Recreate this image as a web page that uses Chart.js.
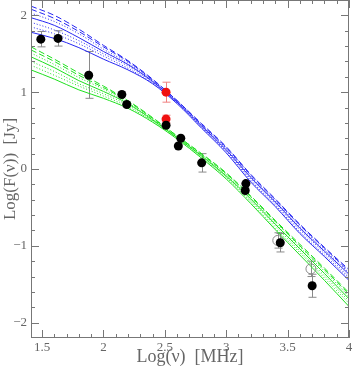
<!DOCTYPE html>
<html>
<head>
<meta charset="utf-8">
<script src="https://cdn.jsdelivr.net/npm/chart.js@4"></script>
<style>
  body { margin: 0; background: #fff; }
  #wrap { width: 353px; height: 366px; }
</style>
</head>
<body>
<div id="wrap"><canvas id="sed" width="353" height="366"></canvas></div>
<script>
// model curves, sampled in log(nu)
const modelX = [1.41, 1.6, 1.8, 2.0, 2.2, 2.4, 2.6, 2.8, 3.0, 3.2, 3.4, 3.6, 3.8, 4.0];

const blue1 = [2.12, 2.00, 1.82, 1.61, 1.41, 1.17, 0.89, 0.59, 0.29, -0.07, -0.39, -0.72, -1.02, -1.31];
const blue2 = [2.08, 1.96, 1.79, 1.59, 1.40, 1.16, 0.89, 0.58, 0.28, -0.08, -0.40, -0.73, -1.03, -1.33];
const blue3 = [2.03, 1.92, 1.76, 1.56, 1.38, 1.15, 0.88, 0.57, 0.27, -0.10, -0.42, -0.75, -1.05, -1.35];
const blue4 = [1.97, 1.87, 1.71, 1.53, 1.36, 1.14, 0.87, 0.56, 0.25, -0.11, -0.43, -0.77, -1.07, -1.37];
const blue5 = [1.91, 1.81, 1.67, 1.50, 1.34, 1.13, 0.87, 0.55, 0.24, -0.13, -0.45, -0.79, -1.09, -1.40];
const blue6 = [1.85, 1.76, 1.63, 1.47, 1.31, 1.12, 0.86, 0.54, 0.23, -0.15, -0.47, -0.82, -1.12, -1.42];
const blue7 = [1.78, 1.70, 1.58, 1.43, 1.29, 1.11, 0.85, 0.53, 0.21, -0.17, -0.49, -0.84, -1.14, -1.45];

const green1 = [1.59, 1.43, 1.25, 1.08, 0.89, 0.67, 0.43, 0.20, -0.05, -0.35, -0.67, -0.98, -1.29, -1.61];
const green2 = [1.55, 1.40, 1.22, 1.06, 0.88, 0.66, 0.43, 0.19, -0.06, -0.36, -0.68, -1.00, -1.31, -1.63];
const green3 = [1.51, 1.36, 1.19, 1.04, 0.86, 0.65, 0.42, 0.18, -0.07, -0.38, -0.70, -1.02, -1.33, -1.66];
const green4 = [1.46, 1.32, 1.15, 1.01, 0.85, 0.64, 0.41, 0.17, -0.09, -0.39, -0.72, -1.04, -1.36, -1.69];
const green5 = [1.40, 1.27, 1.11, 0.98, 0.83, 0.63, 0.41, 0.16, -0.10, -0.41, -0.74, -1.07, -1.39, -1.72];
const green6 = [1.35, 1.22, 1.08, 0.95, 0.81, 0.62, 0.40, 0.15, -0.11, -0.43, -0.77, -1.09, -1.42, -1.75];
const green7 = [1.29, 1.17, 1.03, 0.92, 0.79, 0.61, 0.39, 0.14, -0.13, -0.45, -0.79, -1.12, -1.45, -1.79];

// measured fluxes
const obsX = [1.49, 1.63, 1.88, 2.15, 2.19, 2.51, 2.63, 2.61, 2.80, 3.16, 3.155, 3.44, 3.70];
const obsY = [1.69, 1.70, 1.22, 0.97, 0.84, 0.57, 0.40, 0.30, 0.08, -0.19, -0.28, -0.96, -1.52];
const obsErrUp = [0.10, 0.10, 0.31, 0, 0, 0, 0, 0, 0.12, 0, 0, 0.12, 0.15];
const obsErrDn = [0.10, 0.10, 0.30, 0, 0, 0, 0, 0, 0.12, 0, 0, 0.12, 0.15];

const redX = [2.51, 2.51];
const redY = [1.00, 0.65];
const redErr = [0.13, 0.05];

const openX = [3.42, 3.69];
const openY = [-0.93, -1.30];
const openErr = [0.10, 0.10];

const xTickVals = [1.5, 2, 2.5, 3, 3.5, 4];
const xTickLabels = ['1.5', '2', '2.5', '3', '3.5', '4'];
const yTickVals = [-2, -1, 0, 1, 2];
const yTickLabels = ['\u22122', '\u22121', '0', '1', '2'];

const BLUE = '#2626f2';
const GREEN = '#1ee01e';
const lineStyles = [[6, 3], [6, 3], [1, 2], [], [1, 2], [1, 2], []];

function pts(xs, ys) {
    return xs.map((x, i) => ({ x: x, y: ys[i] }));
}

const datasets = [];
[blue1, blue2, blue3, blue4, blue5, blue6, blue7].forEach((arr, i) => {
    datasets.push({
        type: 'line', data: pts(modelX, arr), borderColor: BLUE, borderWidth: 1,
        borderDash: lineStyles[i], pointRadius: 0, cubicInterpolationMode: 'monotone', order: 2
    });
});
[green1, green2, green3, green4, green5, green6, green7].forEach((arr, i) => {
    datasets.push({
        type: 'line', data: pts(modelX, arr), borderColor: GREEN, borderWidth: 1,
        borderDash: lineStyles[i], pointRadius: 0, cubicInterpolationMode: 'monotone', order: 2
    });
});
datasets.push({
    type: 'scatter', data: pts(openX, openY), pointRadius: 5, borderWidth: 1,
    borderColor: '#888', backgroundColor: 'rgba(0,0,0,0)', order: 1
});
datasets.push({
    type: 'scatter', data: pts(obsX, obsY), pointRadius: 4.5, borderWidth: 0,
    backgroundColor: '#000', order: 0
});
datasets.push({
    type: 'scatter', data: pts(redX, redY), pointRadius: 4.5, borderWidth: 0,
    backgroundColor: '#f01010', order: 0
});

// error bars, drawn under the points
const errorBars = {
    id: 'errorBars',
    beforeDatasetsDraw(chart) {
        const { ctx, scales: { x, y } } = chart;
        function bar(xv, yv, up, dn, color) {
            if (!up && !dn) return;
            const px = Math.round(x.getPixelForValue(xv)) + 0.5;
            const pt = y.getPixelForValue(yv + up);
            const pb = y.getPixelForValue(yv - dn);
            ctx.strokeStyle = color;
            ctx.beginPath();
            ctx.moveTo(px, pt); ctx.lineTo(px, pb);
            ctx.moveTo(px - 4, pt); ctx.lineTo(px + 4, pt);
            ctx.moveTo(px - 4, pb); ctx.lineTo(px + 4, pb);
            ctx.stroke();
        }
        ctx.save();
        ctx.lineWidth = 1;
        obsX.forEach((v, i) => bar(v, obsY[i], obsErrUp[i], obsErrDn[i], '#8a8a8a'));
        openX.forEach((v, i) => bar(v, openY[i], openErr[i], openErr[i], '#8a8a8a'));
        redX.forEach((v, i) => bar(v, redY[i], redErr[i], redErr[i], '#f08080'));
        ctx.restore();
    }
};

// box with inward ticks on all four sides
const frameTicks = {
    id: 'frameTicks',
    afterDraw(chart) {
        const { ctx, chartArea: a, scales: { x, y } } = chart;
        ctx.save();
        ctx.strokeStyle = '#777';
        ctx.lineWidth = 1;
        ctx.strokeRect(a.left + 0.5, a.top + 0.5, a.right - a.left - 1, a.bottom - a.top - 1);
        ctx.beginPath();
        for (let i = 15; i <= 40; i++) {
            const px = Math.round(x.getPixelForValue(i / 10)) + 0.5;
            const len = i % 5 === 0 ? 8 : 4;
            ctx.moveTo(px, a.bottom); ctx.lineTo(px, a.bottom - len);
            ctx.moveTo(px, a.top); ctx.lineTo(px, a.top + len);
        }
        for (let i = -10; i <= 10; i++) {
            const py = Math.round(y.getPixelForValue(i / 5)) + 0.5;
            const len = i % 5 === 0 ? 8 : 4;
            ctx.moveTo(a.left, py); ctx.lineTo(a.left + len, py);
            ctx.moveTo(a.right, py); ctx.lineTo(a.right - len, py);
        }
        ctx.stroke();
        ctx.restore();
    }
};

const serif = 'Liberation Serif, DejaVu Serif, serif';

new Chart(document.getElementById('sed'), {
    type: 'scatter',
    data: { datasets: datasets },
    options: {
        responsive: false,
        animation: false,
        layout: { autoPadding: false, padding: { top: 0, right: 4, left: 0, bottom: 0 } },
        plugins: { legend: { display: false }, tooltip: { enabled: false } },
        scales: {
            x: {
                type: 'linear', min: 1.41, max: 4.0,
                grid: { display: false, drawTicks: false },
                border: { display: false },
                afterBuildTicks: s => { s.ticks = xTickVals.map(v => ({ value: v })); },
                afterFit: s => { s.height = 28; s.paddingLeft = 0; s.paddingRight = 0; },
                ticks: {
                    padding: 2, color: '#666', maxRotation: 0, autoSkip: false,
                    font: { family: serif, size: 13 },
                    callback: v => xTickLabels[xTickVals.indexOf(v)]
                },
                title: {
                    display: true, text: 'Log(\u03bd)  [MHz]', color: '#666',
                    font: { family: serif, size: 18, lineHeight: 1 }, padding: 0
                }
            },
            y: {
                type: 'linear', min: -2.2, max: 2.2,
                grid: { display: false, drawTicks: false },
                border: { display: false },
                afterBuildTicks: s => { s.ticks = yTickVals.map(v => ({ value: v })); },
                afterFit: s => { s.width = 31; s.paddingTop = 0; s.paddingBottom = 0; },
                ticks: {
                    padding: 4, color: '#666', autoSkip: false,
                    font: { family: serif, size: 13 },
                    callback: v => yTickLabels[yTickVals.indexOf(v)]
                },
                title: {
                    display: true, text: 'Log(F(\u03bd))  [Jy]', color: '#666',
                    font: { family: serif, size: 17, lineHeight: 1 }, padding: { top: 2, bottom: 0 }
                }
            }
        }
    },
    plugins: [errorBars, frameTicks]
});
</script>
</body>
</html>
